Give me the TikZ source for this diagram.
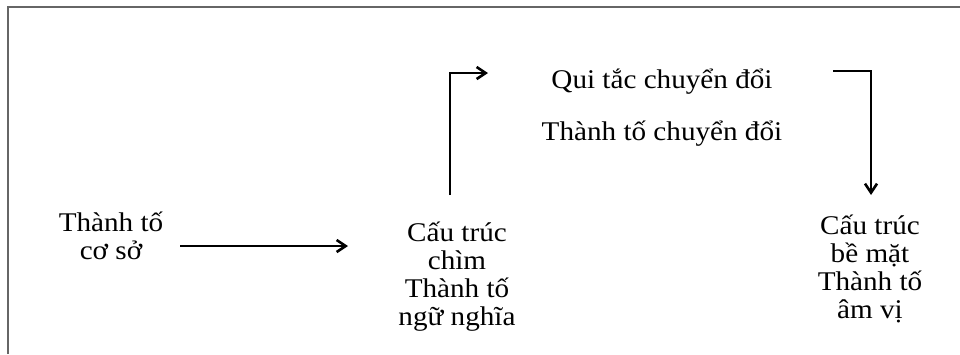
\documentclass[tikz,border=0pt]{standalone}
\usepackage{fontspec}
\setmainfont{Liberation Serif}[FakeStretch=1.08]
\usepackage{tikz}
\usetikzlibrary{arrows.meta}

\begin{document}
\begin{tikzpicture}[line join=miter,x=.5pt,y=-.5pt,>={Straight Barb[length=4.5pt,width=6pt]},
    txt/.style={align=center,inner sep=0pt,anchor=base,font=\fontsize{13.5}{13.85}\selectfont},
    arr/.style={->,line width=1.3pt},
    frame/.style={line width=.9pt,black!60}]
        \useasboundingbox (0,0) rectangle (960,354);
        % open frame, top and left side only
        \draw [frame] (8,354)-- (8,7)-- (960,7);
        % the blocks (base = baseline of the last line)
        \node [txt] (base) at (111,259) {Thành tố\\cơ sở};
        \node [txt] (deep) at (457,325) {Cấu trúc\\chìm\\Thành tố\\ngữ nghĩa};
        \node [txt] (rule) at (662,88) {Qui tắc chuyển đổi};
        \node [txt] (comp) at (662,140) {Thành tố chuyển đổi};
        \node [txt] (surf) at (870,318) {Cấu trúc\\bề mặt\\Thành tố\\âm vị};
        % bend points of the connectors
        \coordinate (a1) at (180,246);
        \coordinate (a2) at (348,246);
        \coordinate (b1) at (450,195);
        \coordinate (b2) at (488,73);
        \coordinate (c1) at (833,71);
        \coordinate (c2) at (871,195);
        \draw [arr] (a1)-- (a2);
        \draw [arr] (b1) |- (b2);
        \draw [arr] (c1) -| (c2);
    \end{tikzpicture}
\end{document}
